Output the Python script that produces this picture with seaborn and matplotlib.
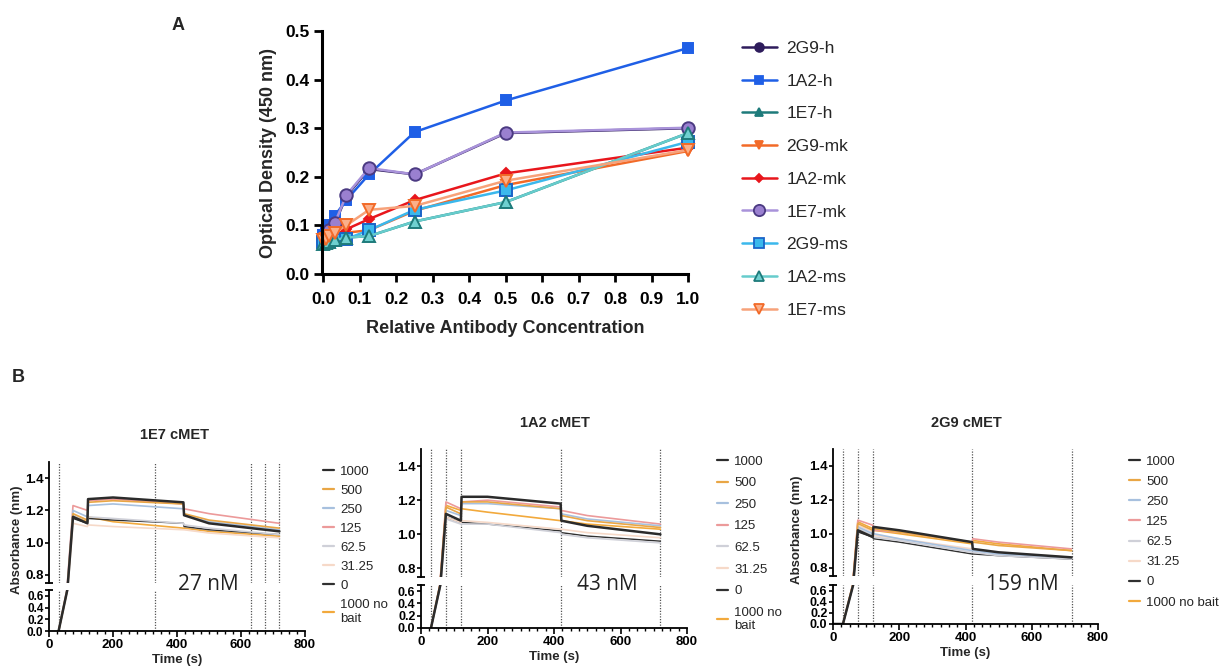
import matplotlib
matplotlib.use("Agg")
import matplotlib.pyplot as plt
import seaborn as sns
from matplotlib.ticker import MultipleLocator, FixedLocator
from matplotlib.lines import Line2D

# ---------------- Panel A data ----------------
A_CONC = [0, 0.0078, 0.0156, 0.03125, 0.0625, 0.125, 0.25, 0.5, 1.0]
A_LABELS = ["2G9-h", "1A2-h", "1E7-h", "2G9-mk", "1A2-mk", "1E7-mk", "2G9-ms", "1A2-ms", "1E7-ms"]
OD_2G9_h = [0.075, 0.080, 0.090, 0.103, 0.160, 0.216, 0.205, 0.290, 0.300]
OD_1A2_h = [0.080, 0.085, 0.100, 0.120, 0.152, 0.205, 0.292, 0.357, 0.465]
OD_1E7_h = [0.062, 0.064, 0.066, 0.070, 0.075, 0.078, 0.108, 0.148, 0.290]
OD_2G9_mk = [0.063, 0.066, 0.070, 0.075, 0.085, 0.090, 0.130, 0.183, 0.253]
OD_1A2_mk = [0.065, 0.068, 0.072, 0.080, 0.092, 0.113, 0.152, 0.207, 0.260]
OD_1E7_mk = [0.075, 0.080, 0.090, 0.105, 0.162, 0.218, 0.205, 0.291, 0.301]
OD_2G9_ms = [0.065, 0.066, 0.068, 0.070, 0.072, 0.090, 0.132, 0.172, 0.272]
OD_1A2_ms = [0.062, 0.064, 0.066, 0.070, 0.075, 0.078, 0.108, 0.148, 0.290]
OD_1E7_ms = [0.070, 0.073, 0.078, 0.085, 0.100, 0.132, 0.140, 0.192, 0.255]
A_VALUES = [OD_2G9_h, OD_1A2_h, OD_1E7_h, OD_2G9_mk, OD_1A2_mk, OD_1E7_mk, OD_2G9_ms, OD_1A2_ms, OD_1E7_ms]

# ---------------- Panel B data ----------------
B_CONC_LABELS = ["1000", "500", "250", "125", "62.5", "31.25", "0", "1000 no\nbait"]
B_TIME = [30, 75, 120, 122, 200, 420, 422, 500, 720]
B3_TIME = [0, 30, 75, 120, 122, 200, 420, 422, 500, 720]

# 1E7 cMET
E7_1000 = [0, 1.16, 1.12, 1.27, 1.28, 1.25, 1.17, 1.12, 1.07]
E7_500 = [0, 1.18, 1.14, 1.25, 1.26, 1.24, 1.18, 1.14, 1.09]
E7_250 = [0, 1.20, 1.16, 1.23, 1.24, 1.21, 1.17, 1.13, 1.08]
E7_125 = [0, 1.23, 1.20, 1.26, 1.27, 1.24, 1.21, 1.18, 1.12]
E7_62 = [0, 1.17, 1.14, 1.16, 1.15, 1.12, 1.11, 1.09, 1.05]
E7_31 = [0, 1.12, 1.10, 1.11, 1.10, 1.08, 1.08, 1.06, 1.03]
E7_0 = [0, 1.15, 1.12, 1.15, 1.14, 1.12, 1.10, 1.08, 1.05]
E7_nobait = [0, 1.17, 1.13, 1.16, 1.13, 1.09, 1.09, 1.07, 1.04]

# 1A2 cMET
A2_1000 = [0, 1.12, 1.08, 1.22, 1.22, 1.18, 1.08, 1.05, 1.00]
A2_500 = [0, 1.16, 1.12, 1.19, 1.19, 1.15, 1.11, 1.08, 1.04]
A2_250 = [0, 1.14, 1.11, 1.18, 1.18, 1.15, 1.12, 1.09, 1.05]
A2_125 = [0, 1.19, 1.15, 1.19, 1.20, 1.16, 1.14, 1.11, 1.06]
A2_62 = [0, 1.09, 1.06, 1.06, 1.06, 1.01, 1.00, 0.98, 0.95]
A2_31 = [0, 1.10, 1.07, 1.08, 1.07, 1.03, 1.03, 1.01, 0.98]
A2_0 = [0, 1.10, 1.07, 1.07, 1.06, 1.02, 1.01, 0.99, 0.96]
A2_nobait = [0, 1.17, 1.14, 1.15, 1.13, 1.08, 1.08, 1.06, 1.03]

# 2G9 cMET
G9_1000 = [0, 0, 1.02, 0.98, 1.04, 1.02, 0.95, 0.91, 0.89, 0.86]
G9_500 = [0, 0, 1.06, 1.02, 1.03, 1.01, 0.95, 0.95, 0.93, 0.90]
G9_250 = [0, 0, 1.04, 1.00, 1.00, 0.97, 0.90, 0.90, 0.88, 0.86]
G9_125 = [0, 0, 1.08, 1.05, 1.02, 1.01, 0.95, 0.97, 0.95, 0.91]
G9_62 = [0, 0, 1.03, 0.99, 0.98, 0.96, 0.89, 0.89, 0.87, 0.85]
G9_31 = [0, 0, 1.05, 1.01, 0.99, 0.97, 0.91, 0.91, 0.89, 0.86]
G9_0 = [0, 0, 1.01, 0.98, 0.97, 0.95, 0.88, 0.88, 0.87, 0.85]
G9_nobait = [0, 0, 1.07, 1.03, 1.02, 1.00, 0.94, 0.96, 0.94, 0.90]

E7_VLINES = [30, 330, 630, 675, 720]
A2_VLINES = [30, 75, 120, 420, 720]
G9_VLINES = [30, 75, 120, 420, 720]

# ---------------- styles ----------------
sns.set_theme(style="ticks")
plt.rcParams["font.family"] = ["Liberation Sans", "DejaVu Sans"]

A_STYLES = [
    dict(color="#2e1c5c", marker="o", mfc="#2e1c5c", mec="#2e1c5c", ms=7),
    dict(color="#1f5fe6", marker="s", mfc="#1f5fe6", mec="#1f5fe6", ms=7),
    dict(color="#1e7b7b", marker="^", mfc="#1e7b7b", mec="#1e7b7b", ms=7),
    dict(color="#f26a28", marker="v", mfc="#f26a28", mec="#f26a28", ms=7),
    dict(color="#e8161c", marker="D", mfc="#e8161c", mec="#e8161c", ms=5),
    dict(color="#a993da", marker="o", mfc="#9a80d0", mec="#4b3a82", ms=9),
    dict(color="#3bb8ec", marker="s", mfc="#3bb8ec", mec="#1a64c8", ms=8),
    dict(color="#66cccc", marker="^", mfc="#6fd0d0", mec="#1e7b7b", ms=8),
    dict(color="#f7a27a", marker="v", mfc="#fbb08a", mec="#f26a28", ms=8),
]

B_COLORS = ["#2b2b2b", "#e9a645", "#a7c0de", "#ec9a9a", "#cfd0d8", "#f6d9c8", "#303030", "#f2a93c"]
B_LW = [1.8, 1.2, 1.2, 1.2, 1.2, 1.2, 1.0, 1.2]

W, H = 1222, 668
fig = plt.figure(figsize=(W / 100, H / 100), dpi=100)

def fx(px):
    return px / W

def fy(py):
    return 1 - py / H

# ---------------- Panel A ----------------
axA = fig.add_axes([fx(322), fy(274), fx(688 - 322), (274 - 31) / H])
for lab, vals, st in zip(A_LABELS, A_VALUES, A_STYLES):
    sns.lineplot(x=A_CONC, y=vals, ax=axA, color=st["color"], marker=st["marker"],
                 markersize=st["ms"], markerfacecolor=st["mfc"], markeredgecolor=st["mec"],
                 markeredgewidth=1.4, linewidth=1.8, sort=False, estimator=None,
                 clip_on=False, label=lab)
if axA.get_legend() is not None:
    axA.get_legend().remove()
axA.set_xlim(-0.004, 1.0)
axA.set_ylim(0, 0.5)
axA.xaxis.set_major_locator(MultipleLocator(0.1))
axA.yaxis.set_major_locator(MultipleLocator(0.1))
axA.set_xticklabels([f"{v:.1f}" for v in axA.get_xticks()])
axA.set_yticklabels([f"{v:.1f}" for v in axA.get_yticks()])
for s in ["top", "right"]:
    axA.spines[s].set_visible(False)
for s in ["left", "bottom"]:
    axA.spines[s].set_linewidth(2.2)
    axA.spines[s].set_color("black")
axA.tick_params(axis="both", direction="out", length=6, width=2, labelsize=12.5, colors="black", pad=3)
axA.tick_params(axis="x", pad=7)
for t in axA.get_xticklabels() + axA.get_yticklabels():
    t.set_fontweight("bold")
axA.set_xlabel("Relative Antibody Concentration", fontsize=13, fontweight="bold", labelpad=9)
axA.set_ylabel("Optical Density (450 nm)", fontsize=13, fontweight="bold", labelpad=6)

handles = [Line2D([0], [0], color=st["color"], marker=st["marker"], markersize=st["ms"] * 0.9,
                  markerfacecolor=st["mfc"], markeredgecolor=st["mec"], markeredgewidth=1.3, lw=1.8)
           for st in A_STYLES]
fig.legend(handles, A_LABELS, loc="upper left", bbox_to_anchor=(fx(735), fy(34)),
           frameon=False, fontsize=12.5, labelspacing=1.01, handlelength=2.0, handletextpad=0.55,
           borderaxespad=0)

fig.text(fx(178), fy(26), "A", fontsize=13, fontweight="bold", ha="center", va="center")
fig.text(fx(18), fy(378), "B", fontsize=13, fontweight="bold", ha="center", va="center")

# ---------------- Panel B ----------------
panels = [
    dict(title="1E7 cMET", time=B_TIME,
         series=[E7_1000, E7_500, E7_250, E7_125, E7_62, E7_31, E7_0, E7_nobait],
         vlines=E7_VLINES, left=49, right=305, up_top=462, up_bot=583, lo_top=590, lo_bot=631,
         title_xy=(175, 435), ylabel_x=17, ylabel_y=540, ann="27 nM", ann_xy=(208, 585),
         leg_xy=(318, 460), leg_labels=B_CONC_LABELS, leg_space=0.52, lo_fs=8.5),
    dict(title="1A2 cMET", time=B_TIME,
         series=[A2_1000, A2_500, A2_250, A2_125, A2_62, A2_31, A2_0, A2_nobait],
         vlines=A2_VLINES, left=421, right=687, up_top=449, up_bot=577, lo_top=585, lo_bot=628,
         title_xy=(555, 423), ylabel_x=None, ylabel_y=530, ann="43 nM", ann_xy=(607, 585),
         leg_xy=(712, 450), leg_labels=B_CONC_LABELS, leg_space=0.71, lo_fs=9),
    dict(title="2G9 cMET", time=B3_TIME,
         series=[G9_1000, G9_500, G9_250, G9_125, G9_62, G9_31, G9_0, G9_nobait],
         vlines=G9_VLINES, left=833, right=1098, up_top=449, up_bot=576, lo_top=585, lo_bot=624,
         title_xy=(966, 423), ylabel_x=797, ylabel_y=530, ann="159 nM", ann_xy=(1022, 585),
         leg_xy=(1124, 450), leg_labels=[l.replace("\n", " ") for l in B_CONC_LABELS], leg_space=0.6,
         lo_fs=9),
]

for p in panels:
    axU = fig.add_axes([fx(p["left"]), fy(p["up_bot"]), fx(p["right"] - p["left"]),
                        (p["up_bot"] - p["up_top"]) / H])
    axL = fig.add_axes([fx(p["left"]), fy(p["lo_bot"]), fx(p["right"] - p["left"]),
                        (p["lo_bot"] - p["lo_top"]) / H])
    for ax in (axU, axL):
        for vx in p["vlines"]:
            ax.axvline(vx, color="#555555", lw=0.9, ls=(0, (1, 1.2)), zorder=1)
        order = list(range(len(p["series"])))[::-1]
        for i in order:
            sns.lineplot(x=p["time"], y=p["series"][i], ax=ax, color=B_COLORS[i], linewidth=B_LW[i],
                         sort=False, estimator=None, zorder=2)
        ax.set_xlim(0, 800)
        ax.spines["top"].set_visible(False)
        ax.spines["right"].set_visible(False)
        ax.spines["left"].set_linewidth(1.3)
        ax.spines["left"].set_color("black")
        ax.tick_params(axis="y", direction="out", length=3, width=1.2, labelsize=9.5, pad=1,
                       colors="black")
        ax.set_xlabel("")
        ax.set_ylabel("")
    axU.set_ylim(0.75, 1.5)
    axU.yaxis.set_major_locator(FixedLocator([0.8, 1.0, 1.2, 1.4]))
    axU.set_yticklabels(["0.8", "1.0", "1.2", "1.4"])
    axU.spines["bottom"].set_visible(False)
    axU.tick_params(axis="x", bottom=False, labelbottom=False)
    axL.set_ylim(0, 0.7)
    axL.yaxis.set_major_locator(FixedLocator([0.0, 0.2, 0.4, 0.6]))
    axL.set_yticklabels(["0.0", "0.2", "0.4", "0.6"])
    axL.tick_params(axis="y", labelsize=p["lo_fs"])
    axL.spines["bottom"].set_linewidth(1.3)
    axL.spines["bottom"].set_color("black")
    axL.xaxis.set_major_locator(MultipleLocator(200))
    axL.xaxis.set_minor_locator(MultipleLocator(25))
    axL.tick_params(axis="x", which="major", direction="out", length=4, width=1.2,
                    labelsize=9.5, pad=2, colors="black")
    axL.tick_params(axis="x", which="minor", direction="out", length=2.5, width=1.0,
                    colors="black", bottom=True)
    for t in axU.get_yticklabels() + axL.get_yticklabels() + axL.get_xticklabels():
        t.set_fontweight("bold")
    axL.set_xlabel("Time (s)", fontsize=9.5, fontweight="bold", labelpad=2)
    # break caps
    for ax, yv in ((axU, 0.75), (axL, 0.7)):
        ax.plot([0], [yv], marker="_", color="black", markersize=6, mew=1.3,
                clip_on=False, transform=ax.transData)
    fig.text(fx(p["title_xy"][0]), fy(p["title_xy"][1]), p["title"], fontsize=10.5,
             fontweight="bold", ha="center", va="center")
    if p["ylabel_x"] is not None:
        fig.text(fx(p["ylabel_x"]), fy(p["ylabel_y"]), "Absorbance (nm)", fontsize=9.5,
                 fontweight="bold", rotation=90, ha="center", va="center")
    fig.text(fx(p["ann_xy"][0]), fy(p["ann_xy"][1]), p["ann"], fontsize=15,
             family=["Open Sans", "DejaVu Sans"], ha="center", va="center", color="#222222")
    lh = [Line2D([0], [0], color=c, lw=1.6) for c in B_COLORS]
    fig.legend(lh, p["leg_labels"], loc="upper left", bbox_to_anchor=(fx(p["leg_xy"][0]), fy(p["leg_xy"][1])),
               frameon=False, fontsize=9.5, labelspacing=p["leg_space"], handlelength=0.8,
               handletextpad=0.5, borderaxespad=0)

fig.savefig("out.png", dpi=100, facecolor="white")
